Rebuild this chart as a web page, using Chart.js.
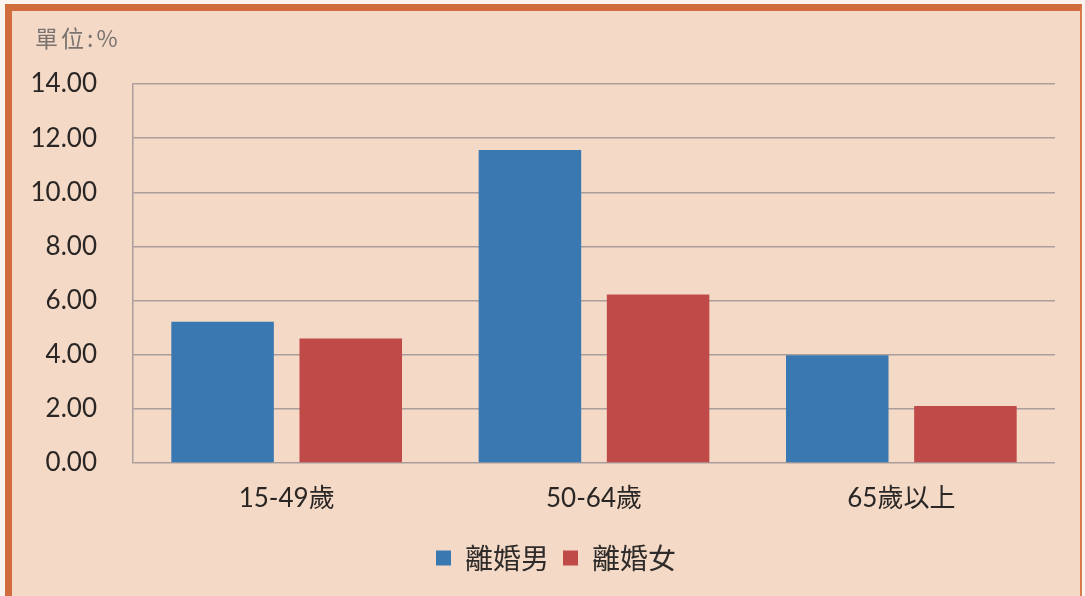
<!DOCTYPE html>
<html>
<head>
<meta charset="utf-8">
<script src="https://cdn.jsdelivr.net/npm/chart.js@4"></script>
<style>
  html, body { margin: 0; padding: 0; background: #fbf3ee; }
  #frame {
    position: absolute; left: 5px; top: 4px; width: 1068px; height: 585px;
    background: #f4dac6;
    border-top: 7px solid #d16c3c; border-left: 7px solid #d16c3c;
    border-bottom: 3px solid #d16c3c; border-right: 2px solid #d87a4c;
  }
  #unit {
    position: absolute; left: 35px; top: 20px;
    font-family: "Noto Sans CJK TC", sans-serif; font-size: 23px; color: #7a7370;
    letter-spacing: 3px;
  }
  #wrap { position: absolute; left: 0; top: 0; width: 1085px; height: 596px; }
</style>
</head>
<body>
<div id="frame"></div>
<div id="wrap"><canvas id="c" width="1085" height="596"></canvas></div>
<div id="unit">單位:%</div>
<script>
const categories = ["15-49歲", "50-64歲", "65歲以上"];
const seriesNames = ["離婚男", "離婚女"];
const maleValues = [5.22, 11.56, 3.98];
const femaleValues = [4.60, 6.22, 2.11];
const yTicks = [0, 2, 4, 6, 8, 10, 12, 14];

const fontStack = "Lato, 'Noto Sans CJK TC', sans-serif";

new Chart(document.getElementById('c'), {
  type: 'bar',
  data: {
    labels: categories,
    datasets: [
      { label: seriesNames[0], data: maleValues, backgroundColor: '#3a78b2', borderWidth: 0,
        categoryPercentage: 0.834, barPercentage: 0.8 },
      { label: seriesNames[1], data: femaleValues, backgroundColor: '#bf4a48', borderWidth: 0,
        categoryPercentage: 0.834, barPercentage: 0.8 }
    ]
  },
  options: {
    responsive: false,
    animation: false,
    layout: { padding: { left: 30, right: 3, top: 84, bottom: 14 } },
    plugins: {
      tooltip: { enabled: false },
      legend: {
        position: 'bottom',
        labels: {
          boxWidth: 15, boxHeight: 15, padding: 14,
          color: '#2f2b2a',
          font: { family: "'Noto Sans CJK TC', sans-serif", size: 28 }
        }
      }
    },
    scales: {
      x: {
        grid: { display: false, drawTicks: false },
        border: { display: false },
        ticks: { color: '#2a2625', padding: 20, font: { family: fontStack, size: 26 } },
        afterFit: s => { s.height = 67; }
      },
      y: {
        min: 0, max: 14,
        afterBuildTicks: s => { s.ticks = yTicks.map(v => ({ value: v })); },
        grid: { color: '#aa9d9b', lineWidth: 1.5, drawTicks: false },
        border: { display: true, color: '#aa9d9b', width: 1.5 },
        ticks: {
          color: '#2a2625', padding: 36,
          font: { family: fontStack, size: 26 },
          callback: v => Number(v).toFixed(2)
        },
        afterFit: s => { s.width = 103; }
      },
      y2: {
        position: 'right',
        display: true,
        grid: { display: false, drawTicks: false },
        border: { display: false },
        ticks: { display: false },
        afterFit: s => { s.width = 27; }
      }
    }
  }
});
</script>
</body>
</html>
